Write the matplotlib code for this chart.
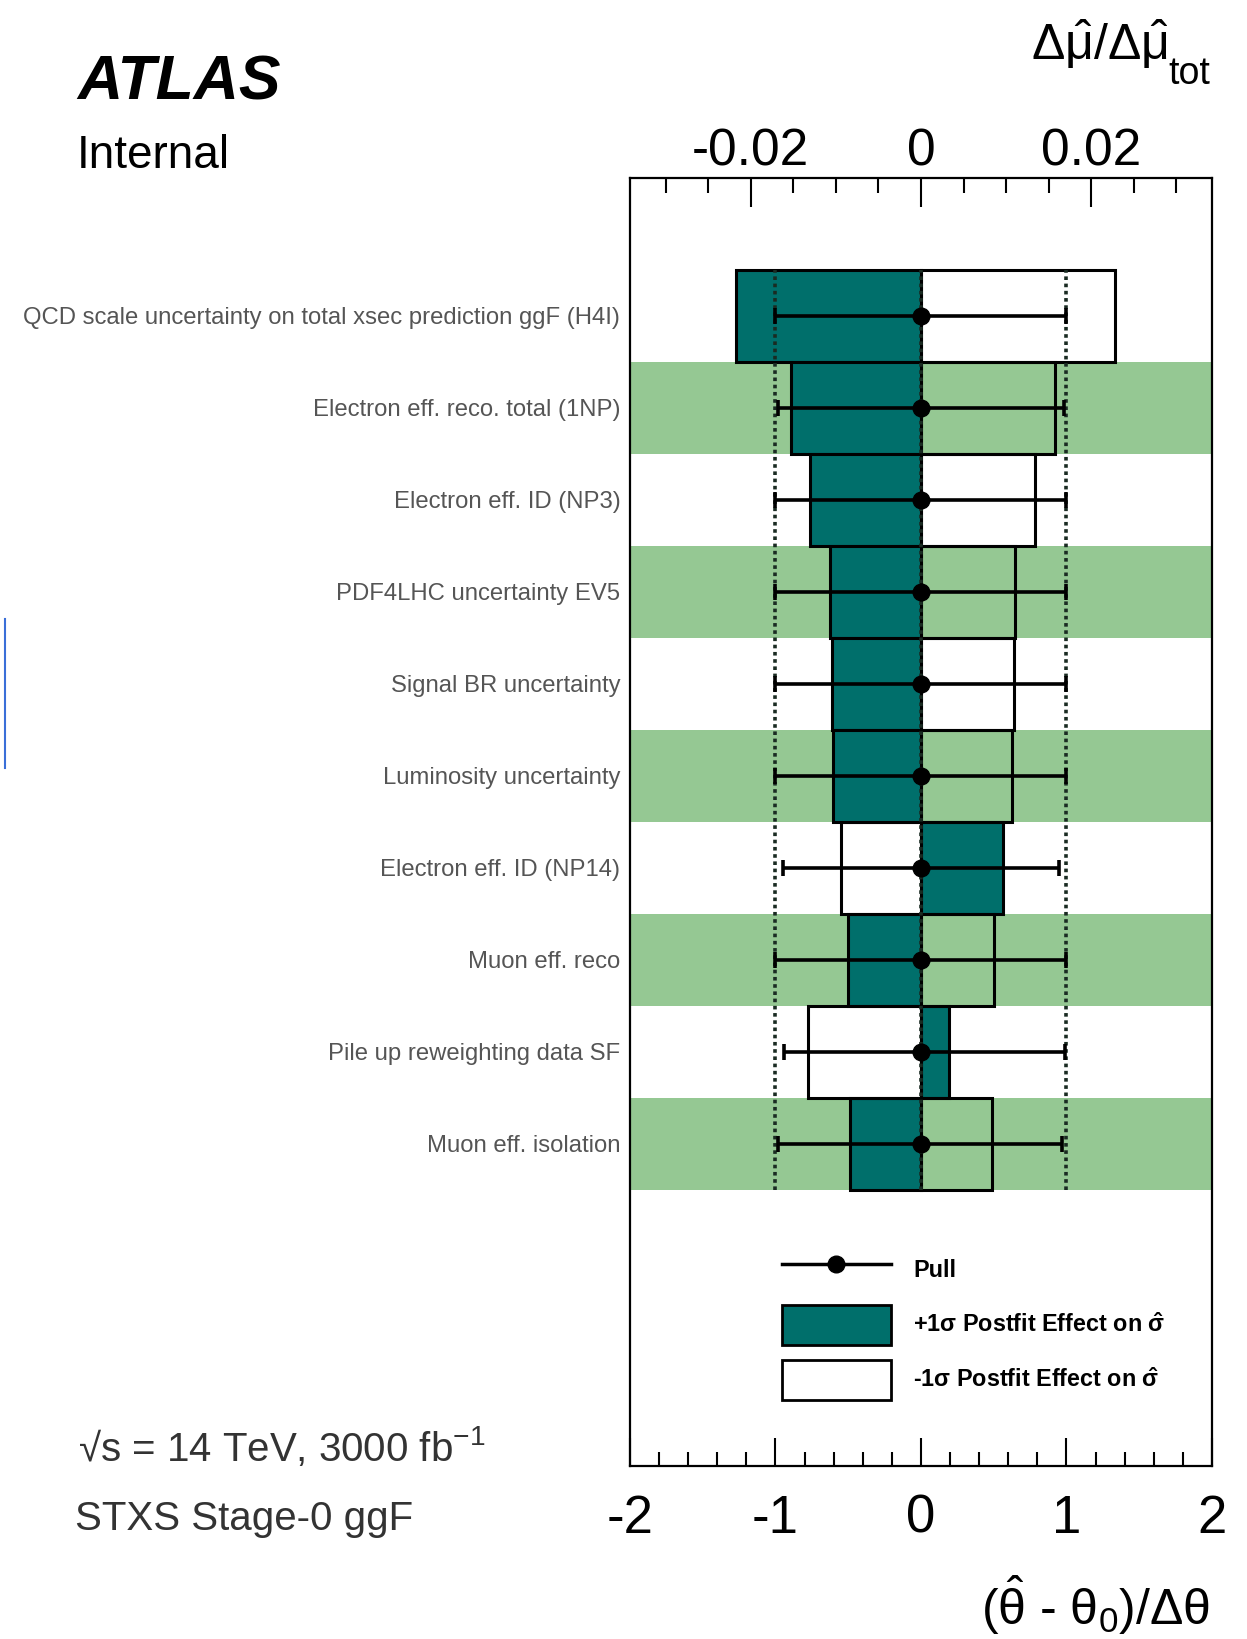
import numpy as np
import matplotlib
matplotlib.use("Agg")
import matplotlib.pyplot as plt
from matplotlib.lines import Line2D
from matplotlib.patches import Patch
from matplotlib.ticker import MultipleLocator

plt.rcParams['font.family'] = ['Liberation Sans', 'DejaVu Sans']
plt.rcParams['mathtext.fontset'] = 'custom'
plt.rcParams['mathtext.rm'] = 'Liberation Sans'
plt.rcParams['mathtext.it'] = 'Liberation Sans:italic'
plt.rcParams['mathtext.bf'] = 'Liberation Sans:bold'

# nuisance parameters, ranked top to bottom
params = [
    "QCD scale uncertainty on total xsec prediction ggF (H4I)",
    "Electron eff. reco. total (1NP)",
    "Electron eff. ID (NP3)",
    "PDF4LHC uncertainty EV5",
    "Signal BR uncertainty",
    "Luminosity uncertainty",
    "Electron eff. ID (NP14)",
    "Muon eff. reco",
    "Pile up reweighting data SF",
    "Muon eff. isolation",
]
# impact on mu (top axis units)
impact_up = [-0.0217, -0.0153, -0.0130, -0.0107, -0.0105, -0.0103, 0.0096, -0.0086, 0.0033, -0.0083]
impact_down = [0.0228, 0.0157, 0.0134, 0.0111, 0.0109, 0.0107, -0.0094, 0.0086, -0.0133, 0.0084]
# pulls (bottom axis units)
pull = [0, 0, 0, 0, 0, 0, 0, 0, 0, 0]
pull_lo = [1.0, 0.98, 1.0, 1.0, 1.0, 1.0, 0.95, 1.0, 0.94, 0.98]
pull_hi = [1.0, 0.98, 1.0, 1.0, 1.0, 1.0, 0.95, 1.0, 0.99, 0.97]

teal = '#006f6b'
band = '#95c893'

fig = plt.figure(figsize=(12.47, 16.39), dpi=100)
ax = fig.add_axes([0.5052, 0.1056, 0.4667, 0.7858])
axt = ax.twiny()
ax.set_zorder(axt.get_zorder() + 1)
ax.patch.set_visible(False)

n = len(params)
yc = 12.5 - np.arange(n)

# alternating bands + impact boxes on the lower layer
for i, y in enumerate(yc):
    if i % 2 == 1:
        axt.axhspan(y - 0.5, y + 0.5, color=band, lw=0, zorder=0)
axt.barh(yc, impact_up, height=1.0, left=0, color=teal, edgecolor='black', lw=2.2, zorder=2)
axt.barh(yc, impact_down, height=1.0, left=0, fill=False, edgecolor='black', lw=2.2, zorder=3)
axt.set_xlim(-0.0342, 0.0342)

# pulls on top layer
ax.vlines([-1, 0, 1], 3, 13, colors='#1a2b22', linestyles=(0, (1, 1)), lw=2.6, zorder=1)
ax.errorbar(pull, yc, xerr=[pull_lo, pull_hi], fmt='o', color='black', ms=12,
            elinewidth=2.6, capsize=6, capthick=2.6, zorder=5)

ax.set_xlim(-2, 2)
ax.set_ylim(0, 14)

ax.set_yticks(yc)
ax.set_yticklabels(params, fontsize=17.2, color='#555555')
ax.tick_params(axis='y', length=0, pad=7)

ax.xaxis.set_minor_locator(MultipleLocator(0.2))
ax.set_xticks([-2, -1, 0, 1, 2])
ax.set_xticklabels(['-2', '-1', '0', '1', '2'])
ax.tick_params(axis='x', which='major', direction='in', length=20, width=1.5,
               labelsize=38, pad=20, top=False)
ax.tick_params(axis='x', which='minor', direction='in', length=10, width=1.5, top=False)

axt.set_xticks([-0.02, 0, 0.02])
axt.set_xticklabels(['-0.02', '0', '0.02'])
axt.xaxis.set_minor_locator(MultipleLocator(0.005))
axt.tick_params(axis='x', which='major', direction='in', length=21, width=1.5,
                labelsize=37, pad=1, bottom=False)
axt.tick_params(axis='x', which='minor', direction='in', length=11, width=1.5, bottom=False)
for s in ax.spines.values():
    s.set_linewidth(1.6)
for s in axt.spines.values():
    s.set_visible(False)

# legend
handles = [
    Line2D([], [], color='black', lw=2.5, marker='o', ms=12),
    Patch(facecolor=teal, edgecolor='black', lw=2),
    Patch(facecolor='white', edgecolor='black', lw=2),
]
labels = ['Pull',
          r'+1$\mathbf{\sigma}$ Postfit Effect on $\mathbf{\hat{\sigma}}$',
          r'-1$\mathbf{\sigma}$ Postfit Effect on $\mathbf{\hat{\sigma}}$']
ax.legend(handles, labels, loc='upper left', bbox_to_anchor=(0.2612, 0.1677),
          frameon=False, prop={'weight': 'bold', 'size': 16.8}, numpoints=1,
          handlelength=4.67, handleheight=2.27, labelspacing=0.64,
          handletextpad=0.94, borderpad=0, borderaxespad=0)

# axis titles
fig.text(1169 / 1247, 1 - 60 / 1639, r'$\Delta\hat{\mathrm{\mu}}/\Delta\hat{\mathrm{\mu}}$',
         ha='right', va='baseline', fontsize=36)
fig.text(1210 / 1247, 1 - 84 / 1639, 'tot', ha='right', va='baseline', fontsize=27)
fig.text(1210 / 1247, 1 - 1625 / 1639,
         r'$(\hat{\mathrm{\theta}}$ - $\mathrm{\theta}_{0})/\Delta\mathrm{\theta}$',
         ha='right', va='baseline', fontsize=36)

# labels
fig.text(77 / 1247, 1 - 100 / 1639, 'ATLAS', fontsize=45, fontweight='bold',
         fontstyle='italic', ha='left', va='baseline')
fig.text(77 / 1247, 1 - 168 / 1639, 'Internal', fontsize=33, ha='left', va='baseline')
fig.text(78 / 1247, 1 - 1461 / 1639, '\u221as = 14 TeV, 3000 fb$^{\\mathrm{-1}}$',
         fontsize=29, color='#333333', ha='left', va='baseline')
fig.text(75 / 1247, 1 - 1530 / 1639, 'STXS Stage-0 ggF', fontsize=29,
         color='#333333', ha='left', va='baseline')

# stray blue mark at the left edge of the original
fig.add_artist(Line2D([5 / 1247, 5 / 1247], [1 - 619 / 1639, 1 - 768 / 1639],
                      color='#3a6fd8', lw=1.5))

fig.savefig('out.png', dpi=100)
